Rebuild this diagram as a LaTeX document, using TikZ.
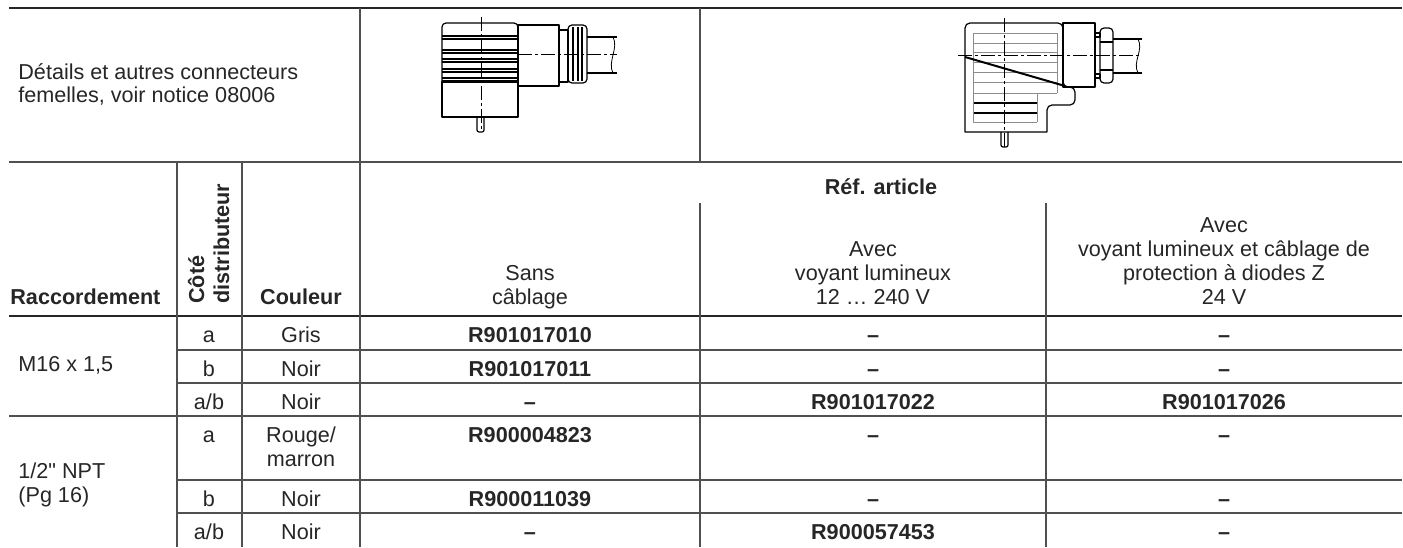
\documentclass[tikz,border=0pt]{standalone}
\usepackage{fontspec}
\setmainfont{Liberation Sans}[Ligatures=TeXOff]
\usetikzlibrary{positioning}
\definecolor{ink}{HTML}{262626}
\definecolor{rulegrey}{HTML}{505050}
\definecolor{linegrey}{HTML}{8C8C8C}

\begin{document}
\begin{tikzpicture}[x=0.5pt,y=-0.5pt,
    txt/.style={font=\fontsize{10.8}{12}\selectfont,text=ink,inner sep=0pt,anchor=base},
    bold/.style={txt,font=\fontsize{10.8}{12}\selectfont\bfseries},
    rule/.style={draw=rulegrey,line width=0.6pt},
    heavy/.style={draw=ink,line width=1.25pt},
    outline/.style={draw=black,line width=0.6pt,line join=round},
    faint/.style={draw=linegrey,line width=0.45pt},
    centreline/.style={draw=black,line width=0.35pt,dash pattern=on 7pt off 1.5pt on 1.5pt off 1.5pt}]

\useasboundingbox (0,0) rectangle (1403,547);

% grid
\draw[heavy] (9,8) -- (1402,8);
\draw[rule] (9,162) -- (1402,162);
\draw[heavy] (9,316) -- (1402,316);
\draw[rule] (9,416) -- (1402,416);
\foreach \y in {350,383,480,513} \draw[rule] (177,\y) -- (1402,\y);
\draw[rule] (360,8) -- (360,547);
\draw[rule] (700,8) -- (700,162);
\foreach \x in {177,242} \draw[rule] (\x,162) -- (\x,547);
\foreach \x in {700,1046} \draw[rule] (\x,203) -- (\x,547);

% top row
\node[txt,anchor=base west] (notice1) at (18,79) {Détails et autres connecteurs};
\node[txt,anchor=base west] (notice2) at (18,102) {femelles, voir notice 08006};

% small socket
\draw[outline,rounded corners=2pt] (442,82) -- (442,23) -- (518,23) -- (518,82);
\foreach \y in {36,50,59,69,78} {
  \draw[outline] (442,\y) -- (518,\y);
  \draw[outline] (442,\y+3) -- (518,\y+3);
}
\draw[outline] (442,82) rectangle (518,117);
\draw[outline] (518,25) rectangle (559,86);
\draw[outline] (559,30) rectangle (568,82);
\draw[outline,rounded corners=2pt] (568,25) rectangle (587,83);
\foreach \x in {573,578,582} \draw[outline] (\x,27) -- (\x,81);
\draw[outline] (587,37) -- (617,37) (587,73) -- (617,73);
\draw[outline,line width=0.4pt] (613,37) .. controls (619,48) and (607,62) .. (613,73);
\draw[outline,rounded corners=1pt] (477,117) -- (477,132) -- (484,132) -- (484,117);
\draw[centreline] (481,17) -- (481,132);
\draw[centreline] (518,54) -- (617,54);

% large socket
\foreach \y in {33,43,52,62,72,82,93} \draw[faint] (973,\y) -- (1057,\y);
\foreach \y in {103,113} \draw[outline] (973,\y) -- (1037,\y);
\draw[faint] (973,122) -- (1037,122);
\draw[faint] (973,33) -- (973,122) (1057,33) -- (1057,93) (1037,93) -- (1037,122);
\draw[outline] (1047,132) -- (965,132) [rounded corners=2.5pt] -- (965,23) -- (1063,23) -- (1063,87) -- (1075,87) -- (1075,105) -- (1047,105) [sharp corners] -- (1047,132);
\draw[outline] (1063,23) rectangle (1095,87);
\draw[outline] (1095,33) rectangle (1100,37) (1095,74) rectangle (1100,78);
\draw[outline,rounded corners=2pt] (1100,28) rectangle (1113,83);
\draw[outline] (1100,42) -- (1113,42) (1100,70) -- (1113,70);
\draw[outline] (1113,39) -- (1142,39) (1113,73) -- (1142,73);
\draw[outline,line width=0.4pt] (1138,39) .. controls (1144,50) and (1132,62) .. (1138,73);
\draw[outline,line width=1pt] (965,57) -- (1065,86);
\draw[outline,rounded corners=1pt] (1001,132) -- (1001,147) -- (1008,147) -- (1008,132);
\draw[centreline] (958,55) -- (1142,55);
\draw[centreline] (1004,18) -- (1004,147);

% header
\node[bold,anchor=base west] (racc) at (10,304) {Raccordement};
\node[bold,rotate=90,anchor=base west] (side1) at (204,304) {Côté};
\node[bold,rotate=90,anchor=base west] (side2) at (229,304) {distributeur};
\node[bold] (colour) at (301,304) {Couleur};
\node[bold] (refart) at (881,194) {Réf. article};
\foreach \t [count=\i] in {Sans,câblage}
  \node[txt] (plain\i) at (530,{256+24*\i}) {\t};
\foreach \t [count=\i] in {Avec,voyant lumineux,12 \dots{} 240 V}
  \node[txt] (lamp\i) at (873,{232+24*\i}) {\t};
\foreach \t [count=\i] in {Avec,voyant lumineux et câblage de,protection à diodes Z,24 V}
  \node[txt] (zdiode\i) at (1224,{208+24*\i}) {\t};

% M16 x 1,5
\node[txt,anchor=base west] (m16) at (18,371) {M16 x 1,5};
\node[txt] (s1) at (209,342) {a};
\node[txt] (c1) at (301,342) {Gris};
\node[bold] (p1) at (530,342) {R901017010};
\node[bold] (l1) at (873,342) {–};
\node[bold] (z1) at (1224,342) {–};
\node[txt] (s2) at (209,376) {b};
\node[txt] (c2) at (301,376) {Noir};
\node[bold] (p2) at (530,376) {R901017011};
\node[bold] (l2) at (873,376) {–};
\node[bold] (z2) at (1224,376) {–};
\node[txt] (s3) at (209,409) {a/b};
\node[txt] (c3) at (301,409) {Noir};
\node[bold] (p3) at (530,409) {–};
\node[bold] (l3) at (873,409) {R901017022};
\node[bold] (z3) at (1224,409) {R901017026};

% 1/2" NPT
\node[txt,anchor=base west] (npt1) at (18,478) {1/2" NPT};
\node[txt,anchor=base west] (npt2) at (18,502) {(Pg 16)};
\node[txt] (s4) at (209,442) {a};
\node[txt] (c4a) at (301,442) {Rouge/};
\node[txt] (c4b) at (301,466) {marron};
\node[bold] (p4) at (530,442) {R900004823};
\node[bold] (l4) at (873,442) {–};
\node[bold] (z4) at (1224,442) {–};
\node[txt] (s5) at (209,506) {b};
\node[txt] (c5) at (301,506) {Noir};
\node[bold] (p5) at (530,506) {R900011039};
\node[bold] (l5) at (873,506) {–};
\node[bold] (z5) at (1224,506) {–};
\node[txt] (s6) at (209,539) {a/b};
\node[txt] (c6) at (301,539) {Noir};
\node[bold] (p6) at (530,539) {–};
\node[bold] (l6) at (873,539) {R900057453};
\node[bold] (z6) at (1224,539) {–};

\end{tikzpicture}
\end{document}
